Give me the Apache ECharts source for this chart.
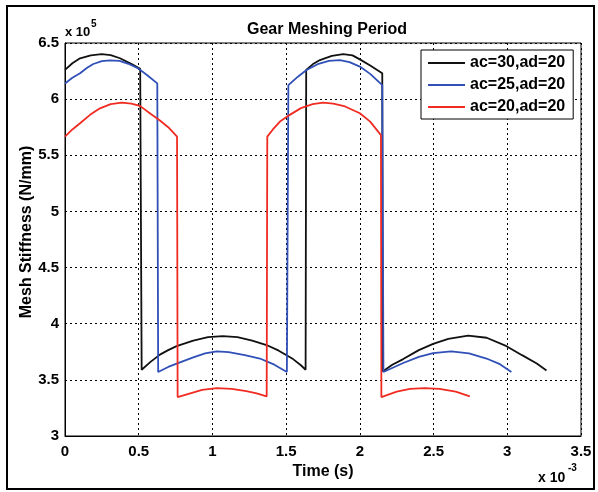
<!DOCTYPE html>
<html>
<head>
<meta charset="utf-8">
<script src="https://cdn.jsdelivr.net/npm/echarts@6/dist/echarts.min.js"></script>
<style>
  html, body { margin: 0; padding: 0; background: #fff; }
  #chart { width: 598px; height: 492px; }
</style>
</head>
<body>
<div id="chart"></div>
<script>
// time in x 10^-3 s, stiffness in x 10^5 N/mm
const seriesNames = ['ac=30,ad=20', 'ac=25,ad=20', 'ac=20,ad=20']
const seriesColors = ['#111111', '#3050b8', '#f02c22']

const xTicks = [0, 0.5, 1, 1.5, 2, 2.5, 3, 3.5]
const yTicks = [3, 3.5, 4, 4.5, 5, 5.5, 6, 6.5]

const ac30 = [
  [0, 6.26], [0.05, 6.32], [0.102, 6.364], [0.175, 6.39], [0.249, 6.40], [0.31, 6.392],
  [0.373, 6.364], [0.452, 6.312], [0.51, 6.27],
  [0.52, 3.59], [0.58, 3.66], [0.644, 3.725], [0.7, 3.765], [0.757, 3.80], [0.87, 3.85],
  [0.97, 3.88], [1.07, 3.89], [1.17, 3.88], [1.27, 3.85], [1.367, 3.81], [1.45, 3.76],
  [1.547, 3.685], [1.6, 3.63], [1.632, 3.59],
  [1.636, 6.26], [1.68, 6.31], [1.729, 6.348], [1.81, 6.385], [1.887, 6.40], [1.95, 6.39],
  [2.0, 6.354], [2.07, 6.30], [2.152, 6.23],
  [2.155, 3.575], [2.22, 3.635], [2.294, 3.685], [2.4, 3.765], [2.497, 3.82], [2.6, 3.865],
  [2.734, 3.893], [2.86, 3.875], [2.995, 3.80], [3.1, 3.72], [3.2, 3.645], [3.266, 3.584]
]

const ac25 = [
  [0, 6.14], [0.05, 6.19], [0.102, 6.23], [0.15, 6.28], [0.192, 6.313], [0.25, 6.338],
  [0.305, 6.345], [0.37, 6.34], [0.43, 6.315], [0.497, 6.274], [0.56, 6.21], [0.626, 6.14],
  [0.632, 3.57], [0.7, 3.615], [0.78, 3.655], [0.87, 3.70], [0.95, 3.735], [1.03, 3.753],
  [1.11, 3.747], [1.22, 3.72], [1.322, 3.69], [1.42, 3.635], [1.505, 3.57],
  [1.515, 6.125], [1.58, 6.20], [1.638, 6.26], [1.72, 6.315], [1.79, 6.34], [1.864, 6.348],
  [1.93, 6.33], [2.0, 6.29], [2.07, 6.225], [2.152, 6.125],
  [2.16, 3.57], [2.294, 3.65], [2.4, 3.705], [2.497, 3.738], [2.62, 3.753], [2.74, 3.735],
  [2.859, 3.69], [2.95, 3.64], [3.028, 3.57]
]

const ac20 = [
  [0, 5.666], [0.05, 5.73], [0.102, 5.785], [0.17, 5.86], [0.237, 5.918], [0.31, 5.955],
  [0.384, 5.969], [0.45, 5.96], [0.508, 5.94], [0.58, 5.87], [0.644, 5.81], [0.7, 5.75],
  [0.76, 5.666],
  [0.764, 3.347], [0.85, 3.38], [0.93, 3.41], [1.03, 3.427], [1.13, 3.42], [1.23, 3.40],
  [1.3, 3.38], [1.368, 3.352],
  [1.372, 5.666], [1.41, 5.73], [1.458, 5.80], [1.525, 5.86], [1.6, 5.92], [1.68, 5.955],
  [1.751, 5.969], [1.82, 5.96], [1.9, 5.935], [2.0, 5.874], [2.07, 5.80], [2.143, 5.68],
  [2.146, 3.347], [2.25, 3.395], [2.34, 3.42], [2.44, 3.427], [2.54, 3.42], [2.65, 3.395],
  [2.746, 3.352]
]

const font = '"Liberation Sans", Arial, sans-serif'
const chart = echarts.init(document.getElementById('chart'), null, { renderer: 'canvas' })

const lines = [ac30, ac25, ac20].map((data, i) => ({
  name: seriesNames[i],
  type: 'line',
  data: data,
  symbol: 'none',
  smooth: false,
  lineStyle: { width: 1.8, color: seriesColors[i] },
  itemStyle: { color: seriesColors[i] },
}))

chart.setOption({
  animation: false,
  backgroundColor: '#fff',
  title: {
    text: 'Gear Meshing Period',
    left: 322,
    top: 17,
    textAlign: 'center',
    textStyle: { fontFamily: font, fontSize: 16, fontWeight: 'bold', color: '#000' },
  },
  legend: {
    data: seriesNames,
    orient: 'vertical',
    left: 421,
    top: 50,
    padding: [5, 8, 4, 7],
    itemGap: 6,
    itemWidth: 37,
    itemHeight: 2,
    icon: 'rect',
    backgroundColor: '#fff',
    borderColor: '#000',
    borderWidth: 1,
    borderRadius: 0,
    textStyle: { fontFamily: font, fontSize: 16, fontWeight: 'bold', color: '#000' },
  },
  grid: {
    left: 65, right: 17, top: 43, bottom: 56,
    show: true, borderColor: '#000', borderWidth: 1,
  },
  xAxis: {
    type: 'value',
    min: xTicks[0],
    max: xTicks[xTicks.length - 1],
    interval: 0.5,
    name: 'Time (s)',
    nameLocation: 'middle',
    nameGap: 22,
    nameTextStyle: { fontFamily: font, fontSize: 16, fontWeight: 'bold', color: '#000' },
    axisLine: { lineStyle: { color: '#000', width: 1 } },
    axisTick: { show: false },
    axisLabel: { margin: 8, fontFamily: font, fontSize: 15, fontWeight: 'bold', color: '#000' },
    splitLine: { lineStyle: { color: '#000', type: [2, 3], width: 1 } },
  },
  yAxis: {
    type: 'value',
    min: yTicks[0],
    max: yTicks[yTicks.length - 1],
    interval: 0.5,
    axisLine: { show: true, lineStyle: { color: '#000', width: 1 } },
    axisTick: { show: false },
    axisLabel: { margin: 6, fontFamily: font, fontSize: 15, fontWeight: 'bold', color: '#000' },
    splitLine: { lineStyle: { color: '#000', type: [2, 3], width: 1 } },
  },
  graphic: [
    {
      type: 'rect',
      shape: { x: 7, y: 6, width: 587, height: 483 },
      style: { fill: 'none', stroke: '#000', lineWidth: 2 },
      silent: true,
    },
    {
      type: 'text', x: 27, y: 232, rotation: Math.PI / 2,
      style: {
        text: 'Mesh Stiffness (N/mm)', textAlign: 'center', textVerticalAlign: 'middle',
        font: 'bold 16px ' + font, fill: '#000',
      },
    },
    { type: 'text', x: 65, y: 26, style: { text: 'x 10', font: 'bold 13px ' + font, fill: '#000' } },
    { type: 'text', x: 91, y: 19, style: { text: '5', font: 'bold 10px ' + font, fill: '#000' } },
    { type: 'text', x: 538, y: 471, style: { text: 'x 10', font: 'bold 14px ' + font, fill: '#000' } },
    { type: 'text', x: 568, y: 463, style: { text: '-3', font: 'bold 10px ' + font, fill: '#000' } },
  ],
  series: lines,
})

window.addEventListener('resize', () => chart.resize())
</script>
</body>
</html>
